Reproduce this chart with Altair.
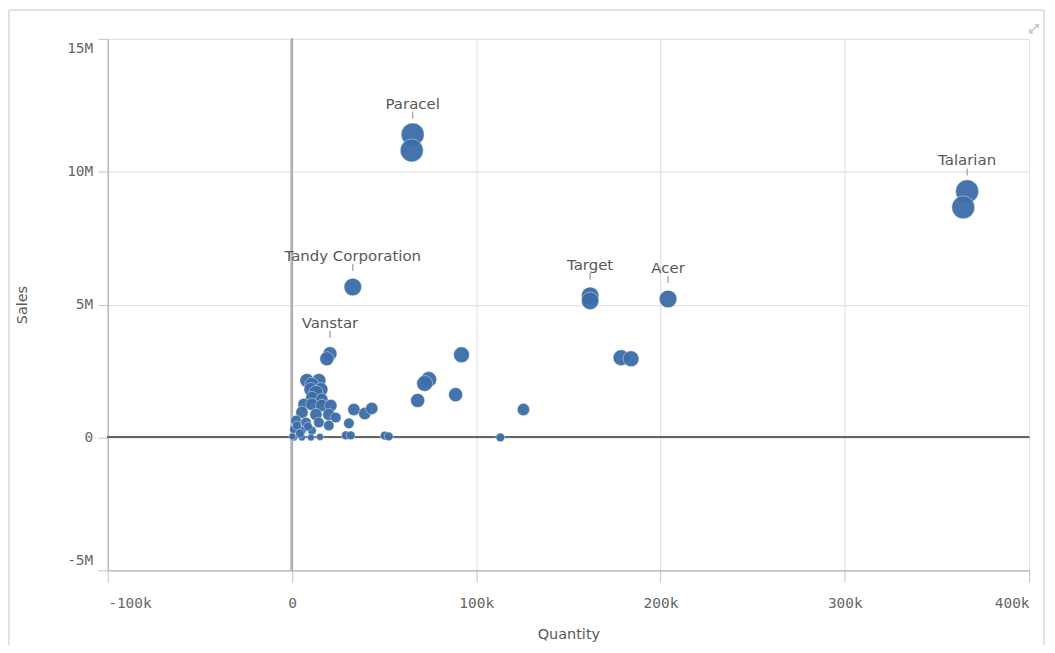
import altair as alt
import pandas as pd

# ---- data ----
named_companies = [
    "Paracel", "Paracel",
    "Talarian", "Talarian",
    "Tandy Corporation",
    "Target", "Target",
    "Acer",
    "Vanstar", "Vanstar",
]
quantity = [
    65500, 65000,
    366400, 364300,
    33000,
    161800, 161800,
    204100,
    20600, 18900,
    178600, 184000, 92000, 74200, 72000, 68200, 88800, 125600, 113100,
    33600, 39500, 43300, 30900, 29200, 31900, 50300, 52500,
    8100, 14600, 10800, 10300, 15700, 13000, 10800, 16200, 6500, 10800,
    16200, 21100, 5400, 13000, 20000, 23800, 2200, 7600, 14600, 20000,
    1100, 5400, 10800, 1100, 5400, 10300, 15200, 2700, 4300, 8700, 200,
]
sales = [
    11400000, 10800000,
    9260000, 8660000,
    5660000,
    5330000, 5140000,
    5210000,
    3150000, 2960000,
    3000000, 2960000, 3110000, 2180000, 2030000, 1390000, 1610000, 1050000, 0,
    1050000, 900000, 1090000, 530000, 80000, 80000, 70000, 40000,
    2140000, 2140000, 1990000, 1800000, 1800000, 1690000, 1500000, 1430000, 1240000, 1240000,
    1200000, 1200000, 940000, 860000, 860000, 750000, 640000, 560000, 560000, 450000,
    300000, 260000, 260000, 0, 0, 0, 20000, 450000, 150000, 410000, 40000,
]
bubble = [
    17, 17,
    17, 17,
    10,
    10, 10,
    10,
    6.4, 6.4,
    8.1, 8.1, 8.1, 8.1, 8.1, 6.4, 6.4, 4.9, 2.5,
    4.9, 4.9, 4.9, 3.6, 2.5, 2.5, 2.5, 2.5,
    6.4, 6.4, 6.4, 6.4, 6.4, 6.4, 4.9, 4.9, 4.9, 4.9,
    4.9, 4.9, 4.9, 4.9, 4.9, 3.6, 3.6, 3.6, 3.6, 3.6,
    2.5, 2.5, 2.5, 1.6, 1.6, 1.6, 1.6, 2.5, 2.5, 2.5, 1.6,
]
company = named_companies + [""] * (len(quantity) - len(named_companies))

x_ticks = [-100000, 0, 100000, 200000, 300000, 400000]
y_ticks = [-5000000, 0, 5000000, 10000000, 15000000]

df = pd.DataFrame({"Company": company, "Quantity": quantity, "Sales": sales, "Bubble": bubble})
labels_df = (
    df[df["Company"] != ""]
    .sort_values("Sales", ascending=False)
    .groupby("Company", as_index=False)
    .first()
)

BLUE = "#3c6da8"
GREY_TXT = "#595959"

x_scale = alt.Scale(domain=[-100000, 400000], nice=False)
y_scale = alt.Scale(domain=[-5000000, 15000000], nice=False)
x_axis = alt.Axis(
    values=x_ticks,
    labelExpr="datum.value == 0 ? '0' : (datum.value / 1000) + 'k'",
    tickSize=12,
    labelPadding=14,
    titlePadding=18,
    labelFlush=True,
    grid=True,
)
y_axis = alt.Axis(
    values=y_ticks,
    labelExpr="datum.value == 0 ? '0' : (datum.value / 1000000) + 'M'",
    tickSize=10,
    labelPadding=5,
    titlePadding=37,
    labelFlush=True,
    labelFlushOffset=-3,
    grid=True,
)

# zero lines (drawn beneath the bubbles)
zero_v = alt.Chart(df).mark_rule(color="#b0b0b0", strokeWidth=2).encode(
    x=alt.XDatum(0, scale=x_scale, axis=x_axis, title="Quantity")
)
zero_h = alt.Chart(df).mark_rule(color="#666666", strokeWidth=1.2).encode(
    y=alt.YDatum(0, scale=y_scale, axis=y_axis, title="Sales")
)

points = alt.Chart(df).mark_circle(
    color=BLUE, opacity=0.95, stroke="#ffffff", strokeWidth=0.8, strokeOpacity=0.55
).encode(
    x=alt.X("Quantity:Q", title="Quantity", scale=x_scale, axis=x_axis),
    y=alt.Y("Sales:Q", title="Sales", scale=y_scale, axis=y_axis),
    size=alt.Size("Bubble:Q", scale=alt.Scale(domain=[0, 17], range=[0, 531]), legend=None),
)

lab_base = alt.Chart(labels_df)
lab_ticks = lab_base.mark_rule(color="#9a9a9a", strokeWidth=1.2, yOffset=-23, y2Offset=-16).encode(
    x="Quantity:Q", y="Sales:Q", y2="Sales:Q"
)
lab_text = lab_base.mark_text(
    dy=-31, font="DejaVu Sans", fontSize=15, color=GREY_TXT, baseline="middle"
).encode(x="Quantity:Q", y="Sales:Q", text="Company:N")

# frame of the chart container and expand icon
frame_l = alt.Chart(labels_df).mark_rule(color="#e2e2e2", strokeWidth=2).encode(
    x=alt.value(-99), y=alt.value(-29), y2=alt.value(610)
)
frame_r = alt.Chart(labels_df).mark_rule(color="#e2e2e2", strokeWidth=2).encode(
    x=alt.value(939), y=alt.value(-29), y2=alt.value(610)
)
frame_t = alt.Chart(labels_df).mark_rule(color="#e2e2e2", strokeWidth=2).encode(
    x=alt.value(-99), x2=alt.value(939), y=alt.value(-29)
)
icon = alt.Chart(labels_df).mark_text(text="⤢", color="#c8c8c8", fontSize=13).encode(
    x=alt.value(929), y=alt.value(-10)
)

chart = (
    alt.layer(zero_v, zero_h, points, lab_ticks, lab_text, frame_l, frame_r, frame_t, icon)
    .properties(
        width=924,
        height=533,
        autosize="none",
        padding={"left": 100, "top": 30, "right": 18, "bottom": 74},
        background="white",
    )
    .configure_view(strokeWidth=0)
    .configure_axis(
        grid=True,
        domainColor="#bdbdbd",
        domainWidth=1.5,
        tickColor="#c4c4c4",
        tickWidth=1,
        gridColor="#e3e3e3",
        gridWidth=1.2,
        labelColor="#666666",
        labelFont="DejaVu Sans Mono",
        labelFontSize=14.5,
        titleFont="DejaVu Sans",
        titleFontSize=14.5,
        titleFontWeight="normal",
        titleColor=GREY_TXT,
    )
)

chart.save("out.html", embed_options={"renderer": "svg", "actions": False})
